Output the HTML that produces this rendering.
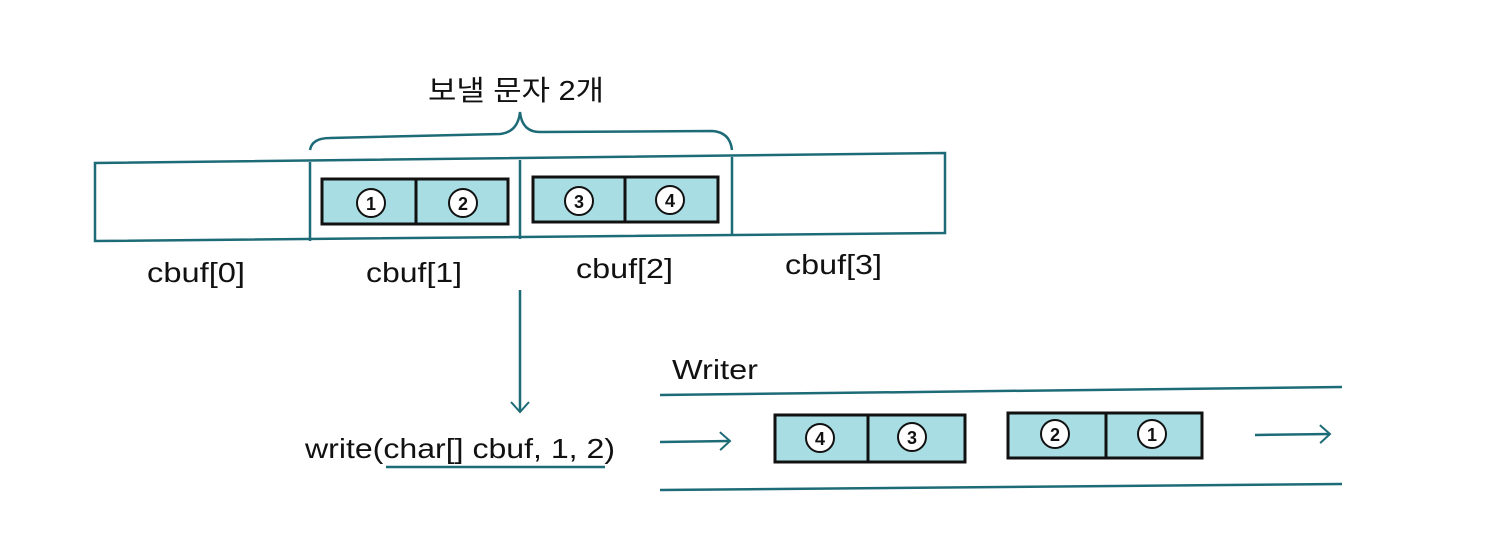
<!DOCTYPE html>
<html><head><meta charset="utf-8"><style>
html,body{margin:0;padding:0;background:#fff;}
svg{display:block;}
text{font-family:"Liberation Sans","Noto Sans CJK KR",sans-serif;fill:#111;}
</style></head><body>
<svg width="1511" height="534" viewBox="0 0 1511 534" xmlns="http://www.w3.org/2000/svg">
<defs>
<marker id="ah" markerWidth="14" markerHeight="20" refX="12" refY="10" orient="auto" markerUnits="userSpaceOnUse">
<path d="M2,1 L12,10 L2,19" fill="none" stroke="#1e6b78" stroke-width="2"/>
</marker>
</defs>
<g stroke="#1e6b78" stroke-width="2.5" fill="none">
<polygon points="95,163 945,153 945,233 95,241"/>
<line x1="310" y1="162" x2="310" y2="241"/>
<line x1="520" y1="160" x2="520" y2="239"/>
<line x1="732" y1="157" x2="732" y2="236"/>
<path d="M310,150 Q312,138 330,138 L500,134 Q518,132 520,112 Q522,132 540,132 L712,131 Q730,132 732,150"/>
<line x1="520" y1="290" x2="520" y2="412" marker-end="url(#ah)"/>
<line x1="386" y1="467" x2="605" y2="467"/>
<line x1="660" y1="395" x2="1342" y2="387"/>
<line x1="660" y1="490" x2="1342" y2="484"/>
<line x1="660" y1="442" x2="730" y2="441" marker-end="url(#ah)"/>
<line x1="1255" y1="435" x2="1330" y2="434" marker-end="url(#ah)"/>
</g>
<g stroke="#111" stroke-width="3" fill="#a8dde3">
<rect x="322" y="179" width="186" height="45"/>
<line x1="416" y1="179" x2="416" y2="224"/>
<rect x="533" y="177" width="185" height="45"/>
<line x1="625" y1="177" x2="625" y2="222"/>
<rect x="775" y="415" width="190" height="47"/>
<line x1="868" y1="415" x2="868" y2="462"/>
<rect x="1008" y="413" width="194" height="45"/>
<line x1="1106" y1="413" x2="1106" y2="458"/>
</g>
<g stroke="#111" stroke-width="2" fill="#fff">
<circle cx="371" cy="203" r="14"/><circle cx="463" cy="203" r="14"/>
<circle cx="579" cy="201" r="14"/><circle cx="670" cy="200" r="14"/>
<circle cx="820" cy="438" r="14"/><circle cx="912" cy="437" r="14"/>
<circle cx="1055" cy="434" r="14"/><circle cx="1152" cy="434" r="14"/>
</g>
<g font-size="18" font-weight="bold" text-anchor="middle">
<text x="371" y="210">1</text><text x="463" y="210">2</text>
<text x="579" y="208">3</text><text x="670" y="207">4</text>
<text x="820" y="445">4</text><text x="912" y="444">3</text>
<text x="1055" y="441">2</text><text x="1152" y="441">1</text>
</g>
<g font-size="28">
<text x="428" y="100" textLength="176" lengthAdjust="spacingAndGlyphs">보낼 문자 2개</text>
<text x="147" y="282" textLength="98" lengthAdjust="spacingAndGlyphs">cbuf[0]</text>
<text x="366" y="282" textLength="96" lengthAdjust="spacingAndGlyphs">cbuf[1]</text>
<text x="576" y="278" textLength="97" lengthAdjust="spacingAndGlyphs">cbuf[2]</text>
<text x="785" y="274" textLength="97" lengthAdjust="spacingAndGlyphs">cbuf[3]</text>
<text x="305" y="458" textLength="310" lengthAdjust="spacingAndGlyphs">write(char[] cbuf, 1, 2)</text>
<text x="672" y="379" textLength="86" lengthAdjust="spacingAndGlyphs">Writer</text>
</g>
</svg>
</body></html>
